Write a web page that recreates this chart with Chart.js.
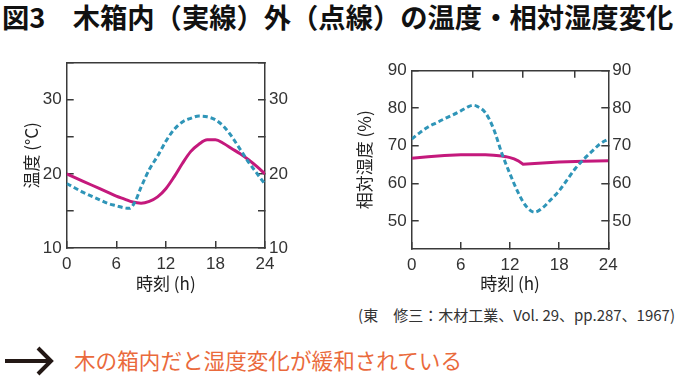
<!DOCTYPE html>
<html><head><meta charset="utf-8">
<script src="https://cdn.jsdelivr.net/npm/chart.js@4/dist/chart.umd.min.js"></script>
<style>
html,body{margin:0;padding:0;background:#fff;}
body{width:680px;height:382px;position:relative;overflow:hidden;font-family:"Noto Sans CJK JP","Noto Sans",sans-serif;}
#title{position:absolute;left:2px;top:0px;font-size:27.3px;font-weight:bold;color:#111;white-space:nowrap;line-height:33px;}
#cite{position:absolute;right:5px;top:304px;font-size:15px;color:#333;white-space:nowrap;line-height:22px;}
#msg{position:absolute;left:74px;top:345px;font-size:21.6px;color:#ea6a3c;white-space:nowrap;line-height:30px;}
#arrow{position:absolute;left:0;top:340px;}
canvas{position:absolute;}
</style></head>
<body>
<div id="title">図3　木箱内（実線）外（点線）の温度・相対湿度変化</div>
<canvas id="c1" width="300" height="260" style="left:0;top:40px;width:300px;height:260px"></canvas>
<canvas id="c2" width="340" height="260" style="left:340px;top:40px;width:340px;height:260px"></canvas>
<div id="cite">(東　修三：木材工業、Vol. 29、pp.287、1967)</div>
<svg id="arrow" width="60" height="42"><g fill="none" stroke="#231815" stroke-width="4" stroke-linecap="butt" stroke-linejoin="miter"><line x1="5" y1="21" x2="50" y2="21"/><polyline points="38,8 51,21 38,34"/></g></svg>
<div id="msg">木の箱内だと湿度変化が緩和されている</div>
<script>
// ---- data ----
const xTicks = [0, 6, 12, 18, 24];
const tempTicks = [10, 15, 20, 25, 30, 35];
const tempLabels = [10, 20, 30];
const rhTicks = [50, 60, 70, 80, 90];
const rhTopTicks = [7.5, 13.6, 19.9];

const tempInHours = [0,1,2,3,4,5,6,7,8,9,10,11,12,13,14,15,16,17,18,19,20,21,22,23,24];
const tempIn = [20.0,19.5,19.0,18.5,18.0,17.5,17.0,16.6,16.2,16.05,16.3,16.9,18.0,19.6,21.4,23.0,24.0,24.6,24.6,24.1,23.4,22.7,21.9,21.0,20.0];

const tempOutHours = [0,1,2,3,4,5,6,7,7.6,8.3,9,10,11,12,13,14,15,16,17,18,19,20,21,22,23,24];
const tempOut = [18.7,18.1,17.5,17.0,16.5,16.0,15.7,15.4,15.35,16.3,18.2,20.6,22.4,24.4,26.0,27.0,27.5,27.8,27.7,27.3,26.4,25.0,23.3,21.6,20.1,18.6];

const rhInHours = [0,2,4,6,8,9,10,11,11.5,12,12.5,13,13.6,15,18,21,24];
const rhIn = [66.7,67.1,67.4,67.6,67.6,67.6,67.5,67.3,67.1,66.85,66.5,66.0,65.1,65.3,65.65,65.9,66.0];

const rhOutHours = [0,1,2,3,4,5,6,7,7.5,8,9,10,11,12,13,14,15,16,17,18,19,20,21,22,23,24];
const rhOut = [71.8,73.5,75.0,76.1,77.2,78.2,79.3,80.5,80.8,80.5,78.8,74.5,68.0,62.5,57.5,53.8,52.3,53.5,55.7,58.0,61.0,64.0,66.4,68.5,70.5,71.8];

// ---- styles ----
const MAGENTA = '#c4197c';
const BLUE = '#2f95b8';
const AXIS = '#3a3a3a';
const TICKFONT = {family: '"Liberation Sans Narrow","Liberation Sans",sans-serif', size: 17};
const TITLEFONT = {family: '"Noto Sans CJK JP",sans-serif', size: 17};

function pts(xs, ys){ return xs.map((x,i)=>({x:x, y:ys[i]})); }
function setTicks(arr){ return s => { s.ticks = arr.map(v=>({value:v})); }; }
function fixW(w){ return s => { s.width = w; }; }
function fixH(h){ return s => { s.height = h; }; }

function makeChart(id, cfg){
  const common = {
    border: {display: true, color: AXIS, width: 1.5},
    grid: {drawOnChartArea: false, drawTicks: true, tickLength: -7, color: AXIS, lineWidth: 1.5}
  };
  const scales = {
    x: Object.assign({}, common, {
      type: 'linear', position: 'bottom', min: 0, max: 24,
      afterBuildTicks: setTicks(xTicks), afterFit: fixH(cfg.bottomH),
      ticks: {font: TICKFONT, color: '#333', padding: 13, maxRotation: 0, autoSkip: false},
      title: {display: true, text: '時刻 (h)', font: TITLEFONT, color: '#222', padding: {top: 0, bottom: 6}}
    }),
    xTop: Object.assign({}, common, {
      type: 'linear', position: 'top', min: 0, max: 24,
      afterBuildTicks: setTicks(cfg.topTicks), afterFit: fixH(cfg.topH),
      grid: Object.assign({}, common.grid, {drawTicks: cfg.topTicks.length > 0}),
      ticks: {display: false}
    }),
    y: Object.assign({}, common, {
      type: 'linear', position: 'left', min: cfg.ymin, max: cfg.ymax,
      afterBuildTicks: setTicks(cfg.yTicks), afterFit: fixW(cfg.leftW),
      ticks: {font: TICKFONT, color: '#333', padding: 12, callback: cfg.yCallback},
      title: {display: true, text: cfg.yTitle, font: TITLEFONT, color: '#222', padding: {top: cfg.yTitlePad, bottom: 0}}
    }),
    y2: Object.assign({}, common, {
      type: 'linear', position: 'right', min: cfg.ymin, max: cfg.ymax,
      afterBuildTicks: setTicks(cfg.yTicks), afterFit: fixW(cfg.rightW),
      ticks: {font: TICKFONT, color: '#333', padding: 11, callback: cfg.yCallback}
    })
  };
  return new Chart(document.getElementById(id), {
    type: 'line',
    data: {datasets: [
      {data: cfg.outData, borderColor: BLUE, borderWidth: 3, borderDash: [5,3], pointRadius: 0, cubicInterpolationMode: 'monotone', fill: false, xAxisID: 'x', yAxisID: 'y'},
      {data: cfg.inData, borderColor: MAGENTA, borderWidth: 3, pointRadius: 0, tension: cfg.inTension, cubicInterpolationMode: cfg.inMode, fill: false, xAxisID: 'x', yAxisID: 'y'}
    ]},
    options: {
      responsive: false, animation: false, devicePixelRatio: 1,
      layout: {padding: 0},
      plugins: {legend: {display: false}, tooltip: {enabled: false}},
      scales: scales
    }
  });
}

makeChart('c1', {
  ymin: 10, ymax: 35, yTicks: tempTicks,
  yCallback: v => tempLabels.includes(v) ? String(v) : '',
  yTitle: '温度 (°C)', yTitlePad: 21,
  leftW: 66.7, rightW: 35, topH: 22.7, bottomH: 52,
  topTicks: [],
  outData: pts(tempOutHours, tempOut),
  inData: pts(tempInHours, tempIn), inTension: 0.4, inMode: 'monotone'
});

makeChart('c2', {
  ymin: 42.5, ymax: 90, yTicks: rhTicks,
  yCallback: v => String(v),
  yTitle: '相対湿度 (%)', yTitlePad: 14,
  leftW: 71.7, rightW: 71.7, topH: 30.7, bottomH: 51,
  topTicks: rhTopTicks,
  outData: pts(rhOutHours, rhOut),
  inData: pts(rhInHours, rhIn), inTension: 0, inMode: 'default'
});
</script>
</body></html>
